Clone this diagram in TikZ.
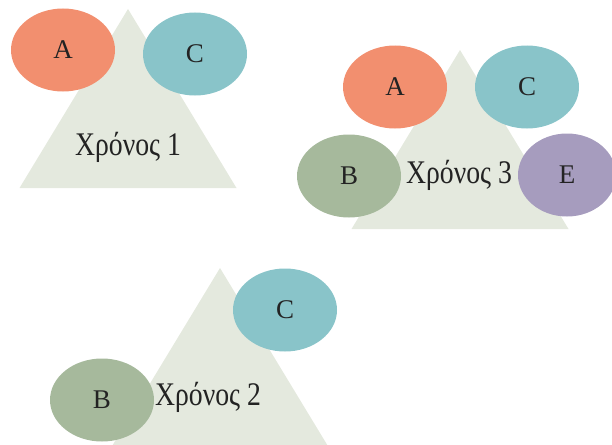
\documentclass[tikz,border=0pt]{standalone}
\usepackage{fontspec}
\setmainfont{Liberation Serif}
\newfontfamily\yearfont[FakeStretch=0.84]{Liberation Serif}
\usetikzlibrary{shapes.geometric}
\definecolor{hillcol}{RGB}{228,233,222}
\definecolor{colA}{RGB}{242,143,111}
\definecolor{colB}{RGB}{166,185,156}
\definecolor{colC}{RGB}{137,196,201}
\definecolor{colE}{RGB}{166,156,190}
\definecolor{inkcol}{RGB}{35,35,35}
\begin{document}
\begin{tikzpicture}[x=1pt, y=-1pt,
    hill/.style={fill=hillcol},
    blob/.style={ellipse, inner sep=0pt, minimum width=104pt,
        minimum height=83pt, text=inkcol, font=\fontsize{27}{27}\selectfont},
    year/.style={text=inkcol, font=\yearfont\fontsize{33}{33}\selectfont}]
    \clip (0,0) rectangle (612,444);
    % the three triangles
    \foreach \ax/\ay in {128/9, 460/50, 220/268}{
        \fill[hill] (\ax,\ay) -- ++(-108.5,179) -- ++(217,0) -- cycle;
    };
    % year 1
    \node[year] (y1) at (128,147) {Χρόνος 1};
    \node[blob, fill=colA] (a1) at (63,50) {A};
    \node[blob, fill=colC] (c1) at (195,54) {C};
    % year 3
    \node[blob, fill=colA] (a3) at (395,87) {A};
    \node[blob, fill=colC] (c3) at (527,87) {C};
    \node[blob, fill=colB] (b3) at (349,176) {B};
    \node[blob, fill=colE, minimum width=98pt] (e3) at (567,175) {E};
    \node[year] (y3) at (459,175) {Χρόνος 3};
    % year 2
    \node[blob, fill=colC] (c2) at (285,310) {C};
    \node[blob, fill=colB] (b2) at (102,400) {B};
    \node[year] (y2) at (208,397) {Χρόνος 2};
\end{tikzpicture}
\end{document}
